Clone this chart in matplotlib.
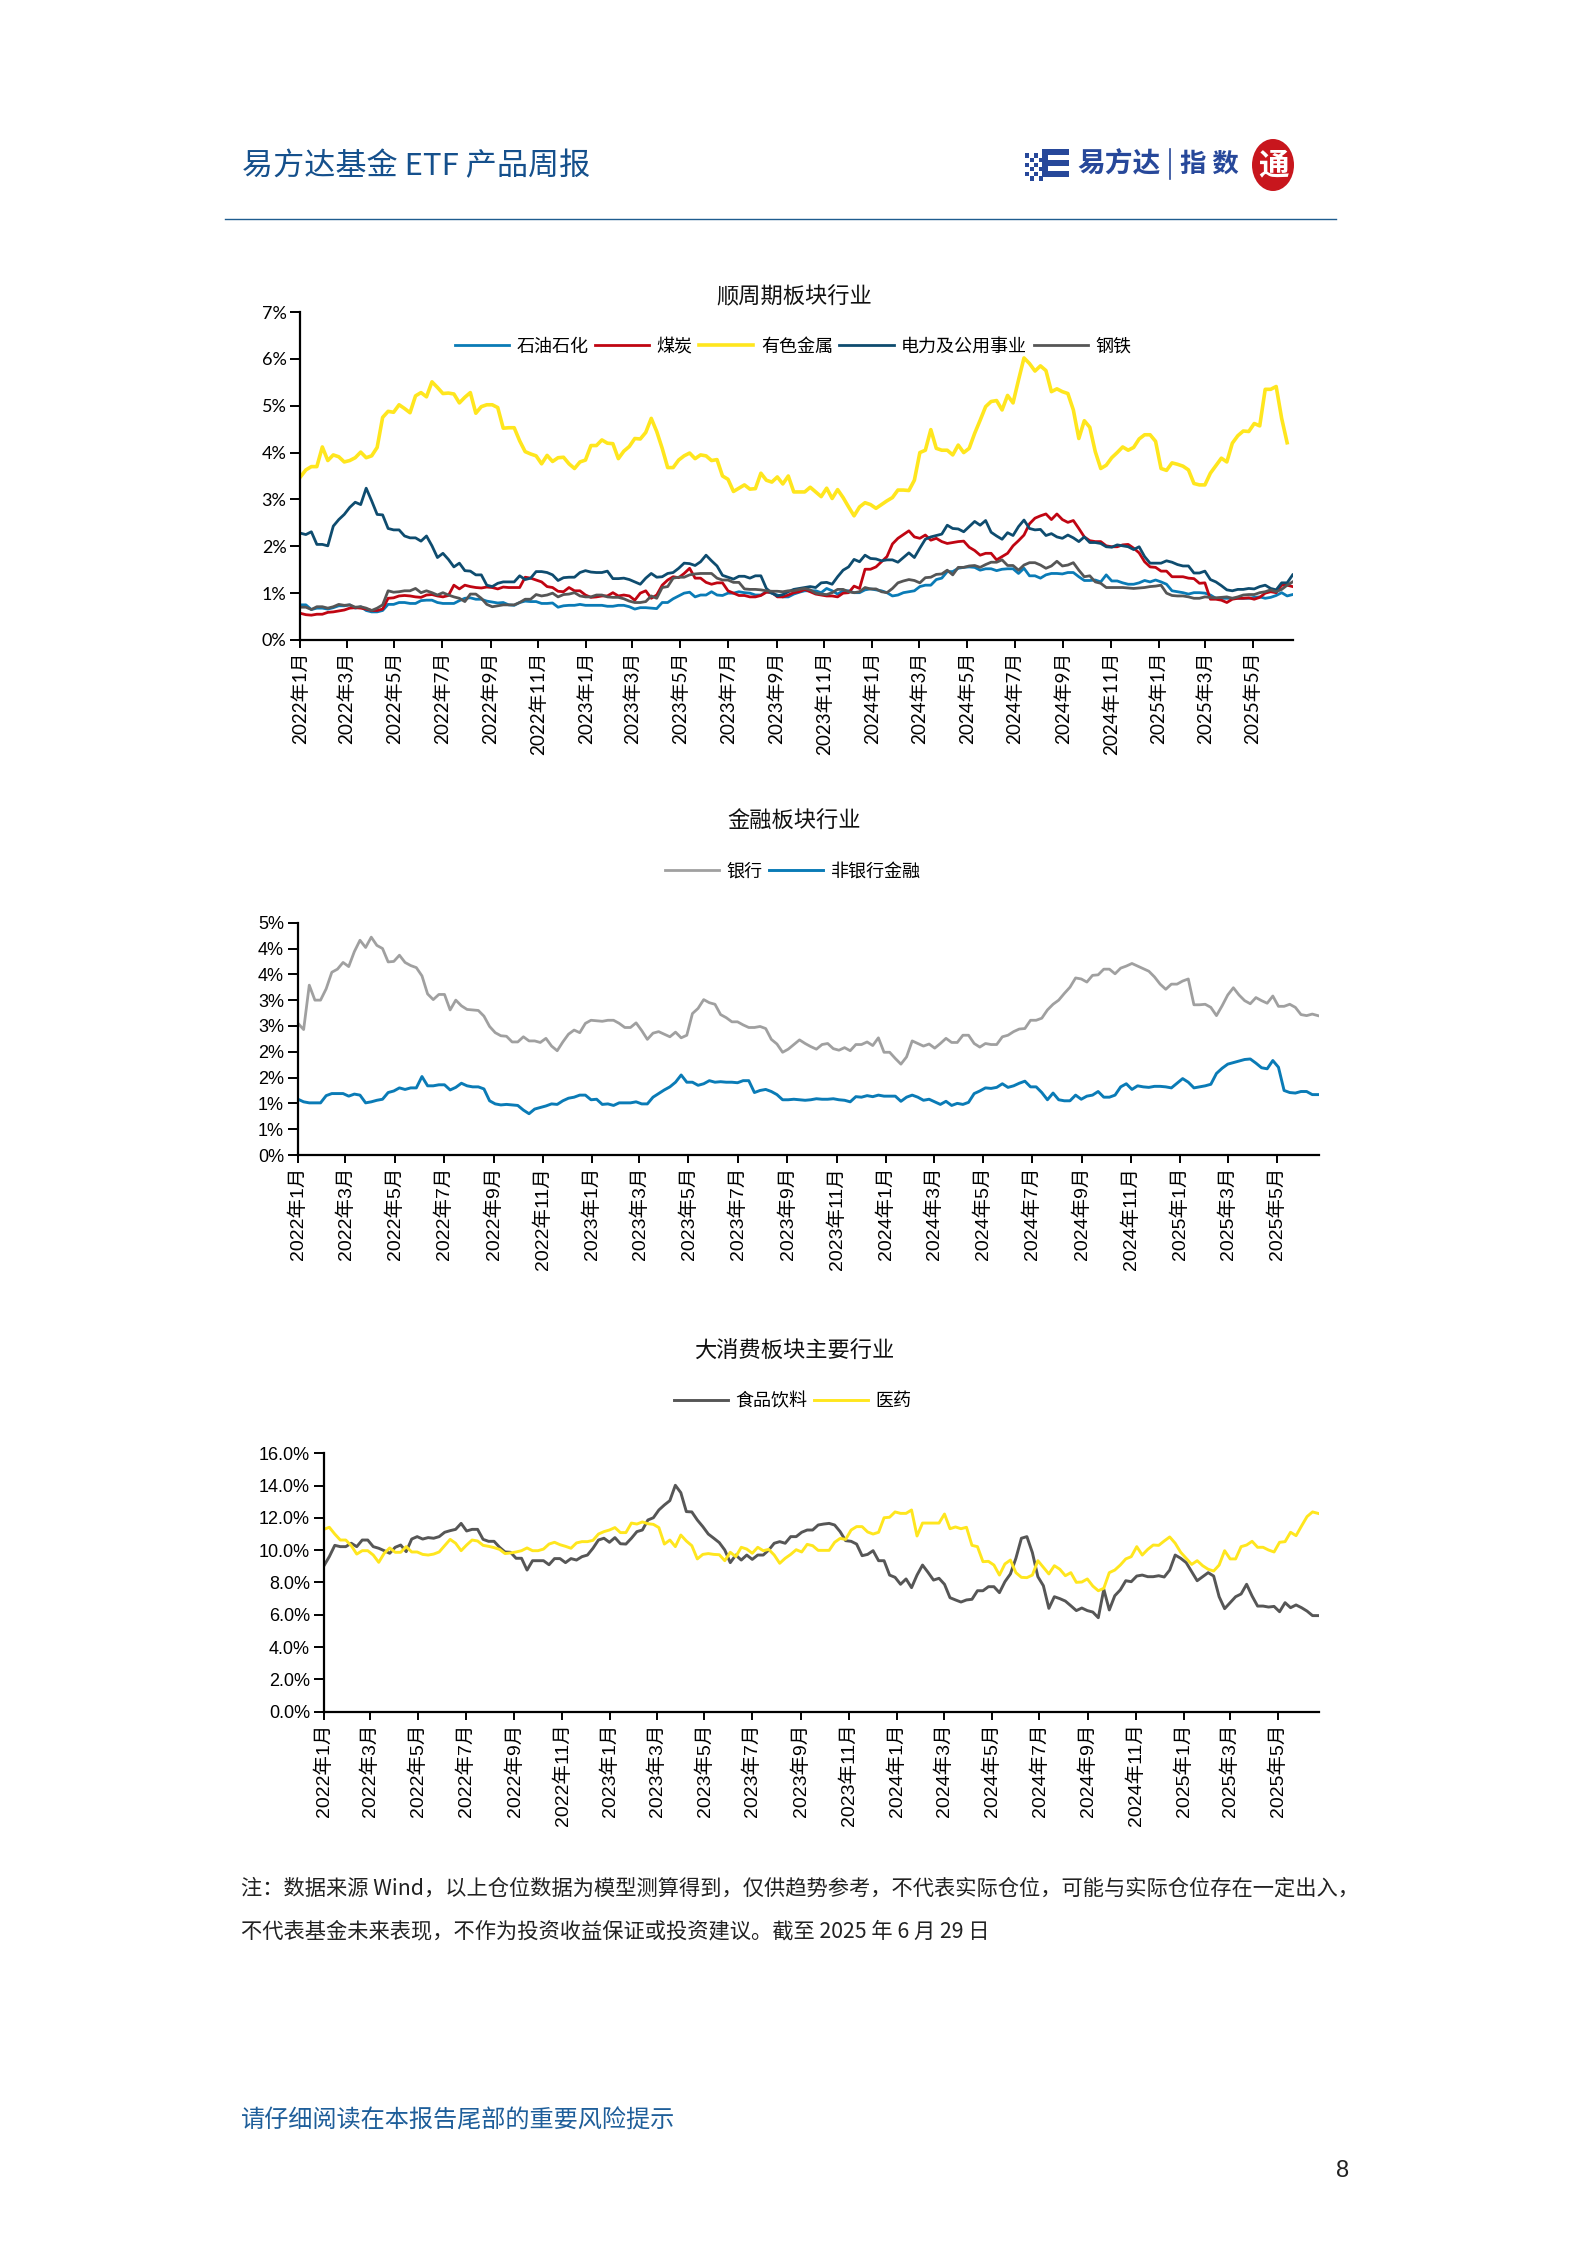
import matplotlib
matplotlib.use("Agg")
import matplotlib.pyplot as plt
from matplotlib.patches import Rectangle, Ellipse
import pandas as pd

W, H = 1587, 2245
CJK = 'Noto Sans CJK SC'
plt.rcParams['font.family'] = [CJK, 'DejaVu Sans']

# ---------- data (percent, weekly) ----------
dates = pd.date_range('2022-01-01', periods=182, freq='7D')
tick_dates = pd.date_range('2022-01-01', '2025-05-01', freq='2MS')
tick_labels = [f'{d.year}年{d.month}月' for d in tick_dates]

oil = [.75,.75,.65,.68,.68,.66,.69,.73,.73,.75,.68,.71,.63,.60,.60,.63,.76,.76,.80,.80,
       .78,.78,.84,.85,.85,.80,.78,.78,.78,.84,.89,.90,.87,.87,.83,.81,.79,.80,.75,.74,
       .80,.83,.82,.82,.78,.78,.79,.70,.73,.74,.74,.76,.74,.74,.74,.74,.72,.72,.74,.74,
       .71,.66,.69,.69,.68,.67,.80,.80,.88,.94,1.00,1.02,.92,.96,.96,1.03,.96,.95,1.00,1.00,
       1.03,1.01,1.00,.96,.96,1.03,1.00,.96,.92,.92,.98,1.02,1.05,1.05,1.05,
       1.01,1.10,1.05,.98,1.05,1.05,1.01,1.01,1.07,1.09,
       1.07,1.05,1.01,.94,.96,1.01,1.03,1.05,1.14,1.17,
       1.17,1.29,1.32,1.46,1.46,1.53,1.55,1.56,1.55,1.49,
       1.52,1.52,1.48,1.51,1.52,1.52,1.42,1.53,1.37,1.37,
       1.32,1.39,1.42,1.42,1.41,1.44,1.44,1.35,1.27,1.27,
       1.28,1.24,1.39,1.26,1.26,1.22,1.19,1.19,1.22,1.27,
       1.24,1.28,1.24,1.19,1.05,1.03,1.01,.98,1.01,1.01,
       1.00,.96,.89,.89,.89,.89,.89,.89,.89,.91,
       .92,.89,.91,.95,1.01,.94,.97]
coal = [0.57,0.54,0.53,0.55,0.55,0.59,0.60,0.62,0.64,0.68,
        0.69,0.68,0.66,0.63,0.63,0.66,0.89,0.90,0.94,0.95,
        0.94,0.92,0.91,0.96,0.97,0.94,0.92,0.95,1.17,1.09,
        1.17,1.14,1.12,1.11,1.13,1.12,1.09,1.13,1.12,1.12,
        1.12,1.34,1.32,1.28,1.24,1.14,1.12,1.04,1.03,1.12,
        1.05,1.05,0.96,0.91,0.92,0.94,0.94,1.01,0.94,0.96,
        0.94,0.85,1.00,1.05,0.89,0.96,1.17,1.28,1.35,1.33,
        1.42,1.53,1.32,1.32,1.23,1.19,1.22,1.22,1.05,1.00,
        0.95,0.95,0.92,0.92,0.95,1.02,1.02,0.92,0.92,0.96,
        1.01,1.03,1.08,1.03,0.98,
        0.96,0.94,0.94,0.92,1.00,1.01,1.15,1.10,1.51,1.51,
        1.56,1.67,1.78,2.05,2.17,2.25,2.33,2.20,2.17,2.24,
        2.13,2.17,2.10,2.06,2.08,2.10,2.11,1.98,1.91,1.81,
        1.85,1.85,1.71,1.78,1.85,2.01,2.12,2.24,2.48,2.60,
        2.65,2.69,2.57,2.69,2.57,2.51,2.55,2.38,2.20,2.12,
        2.10,2.10,2.01,1.99,1.99,2.03,2.04,1.96,1.86,1.67,
        1.56,1.55,1.47,1.47,1.35,1.35,1.35,1.32,1.31,1.21,
        1.22,0.87,0.87,0.85,0.80,0.87,0.89,0.89,0.90,0.87,
        0.91,1.00,1.03,1.01,1.17,1.17,1.14]
metals = [3.48,3.63,3.70,3.70,4.12,3.83,3.95,3.91,3.80,3.83,
          3.89,4.01,3.89,3.93,4.11,4.75,4.88,4.86,5.02,4.94,
          4.85,5.21,5.28,5.19,5.51,5.39,5.26,5.27,5.25,5.06,
          5.18,5.28,4.84,4.98,5.02,5.02,4.96,4.52,4.53,4.53,
          4.25,4.02,3.97,3.93,3.76,3.94,3.81,3.89,3.90,3.76,
          3.66,3.80,3.84,4.15,4.15,4.27,4.20,4.19,3.87,4.03,
          4.13,4.30,4.29,4.43,4.73,4.45,4.09,3.68,3.68,3.84,
          3.93,3.99,3.87,3.95,3.93,3.83,3.85,3.50,3.43,3.17,
          3.24,3.31,3.22,3.23,3.56,3.41,3.37,3.48,3.33,3.50,
          3.16,3.16,3.16,3.26,3.16,
          3.06,3.24,3.02,3.21,3.04,2.84,2.65,2.84,2.93,2.89,
          2.81,2.89,2.97,3.04,3.20,3.20,3.19,3.41,4.00,4.05,
          4.49,4.09,4.05,4.05,3.95,4.16,4.00,4.09,4.41,4.69,
          4.98,5.09,5.11,4.91,5.22,5.06,5.55,6.02,5.90,5.74,
          5.85,5.75,5.30,5.36,5.30,5.26,4.91,4.30,4.68,4.54,
          4.02,3.66,3.73,3.89,4.00,4.12,4.05,4.11,4.29,4.38,
          4.38,4.24,3.66,3.62,3.78,3.75,3.71,3.63,3.34,3.31,
          3.31,3.56,3.72,3.88,3.80,4.20,4.36,4.46,4.45,4.62,
          4.57,5.35,5.35,5.41,4.73,4.21]
power = [2.28,2.25,2.31,2.04,2.04,2.01,2.43,2.57,2.68,2.83,
         2.94,2.89,3.24,2.97,2.68,2.67,2.38,2.35,2.35,2.22,
         2.18,2.18,2.11,2.22,2.01,1.76,1.85,1.72,1.56,1.64,
         1.48,1.47,1.39,1.39,1.17,1.14,1.21,1.24,1.24,1.24,
         1.37,1.29,1.32,1.46,1.46,1.44,1.39,1.27,1.33,1.34,
         1.34,1.44,1.48,1.45,1.44,1.44,1.47,1.31,1.31,1.32,
         1.29,1.24,1.19,1.32,1.42,1.34,1.35,1.42,1.44,1.53,
         1.64,1.63,1.59,1.67,1.81,1.69,1.58,1.38,1.34,1.30,
         1.36,1.36,1.32,1.37,1.37,1.10,1.00,0.94,0.97,1.03,
         1.08,1.10,1.12,1.14,1.12,
         1.22,1.23,1.19,1.35,1.49,1.56,1.72,1.67,1.81,1.74,
         1.73,1.69,1.71,1.71,1.66,1.76,1.86,1.76,1.96,2.15,
         2.20,2.23,2.26,2.45,2.38,2.37,2.31,2.42,2.53,2.45,
         2.55,2.30,2.22,2.15,2.29,2.23,2.42,2.56,2.38,2.35,
         2.36,2.23,2.27,2.20,2.17,2.24,2.18,2.10,2.20,2.08,
         2.08,2.06,1.99,1.98,2.03,2.01,1.99,1.93,1.99,1.78,
         1.64,1.64,1.64,1.69,1.66,1.61,1.58,1.58,1.43,1.43,
         1.47,1.29,1.24,1.16,1.07,1.05,1.08,1.08,1.10,1.09,
         1.14,1.17,1.10,1.07,1.22,1.22,1.39]
steel = [.70,.70,.65,.71,.71,.68,.71,.76,.74,.75,.70,.71,.68,.63,.68,.75,
         1.05,1.02,1.03,1.05,1.05,1.10,1.01,1.05,1.01,.96,1.01,.96,.92,.89,
         .82,.98,.98,.89,.76,.71,.73,.75,.75,.75,
         .80,.87,.87,.97,.94,.96,1.00,.92,.97,.98,
         1.01,.94,.92,.92,.96,.96,.92,.91,.91,.88,
         .83,.80,.80,.82,.94,.89,1.12,1.14,1.32,1.34,
         1.34,1.39,1.41,1.42,1.42,1.42,1.32,1.28,1.28,1.23,
         1.23,1.09,1.08,1.08,1.07,1.05,1.04,1.04,1.03,1.05,
         1.05,1.08,1.10,1.07,1.00,
         .98,.97,1.01,1.08,1.08,1.03,1.01,1.03,1.12,1.09,
         1.09,1.03,1.01,1.10,1.22,1.26,1.29,1.27,1.22,1.33,
         1.34,1.40,1.41,1.49,1.39,1.55,1.55,1.58,1.59,1.55,
         1.61,1.66,1.66,1.71,1.59,1.59,1.49,1.60,1.65,1.65,
         1.60,1.53,1.58,1.68,1.58,1.60,1.65,1.49,1.35,1.37,
         1.24,1.21,1.12,1.12,1.12,1.12,1.11,1.10,1.11,1.12,
         1.14,1.15,1.17,1.00,.95,.94,.94,.92,.89,.89,
         .92,.91,.90,.91,.92,.89,.92,.96,.97,.97,
         1.01,1.03,1.07,1.03,1.08,1.17,1.24]

bank = [2.55,2.43,3.29,3.00,3.00,3.22,3.54,3.60,3.73,3.65,
        3.94,4.16,4.02,4.22,4.06,4.00,3.74,3.75,3.87,3.73,
        3.67,3.63,3.47,3.12,3.01,3.11,3.11,2.81,3.00,2.89,
        2.82,2.81,2.80,2.69,2.49,2.37,2.31,2.30,2.19,2.19,
        2.29,2.21,2.21,2.18,2.26,2.11,2.02,2.19,2.34,2.42,
        2.37,2.55,2.61,2.60,2.59,2.61,2.61,2.55,2.47,2.47,
        2.56,2.41,2.24,2.36,2.39,2.34,2.29,2.38,2.27,2.32,
        2.74,2.84,3.01,2.95,2.92,2.72,2.66,2.58,2.58,2.52,
        2.47,2.47,2.49,2.45,
        2.24,2.15,1.99,2.05,2.14,2.23,2.16,2.10,2.05,2.14,2.16,2.06,2.03,2.08,2.02,2.14,
        2.14,2.19,2.12,2.27,1.99,1.99,1.87,1.76,1.90,2.21,2.16,2.11,2.15,2.07,2.16,2.26,
        2.18,2.18,2.32,2.32,2.16,2.09,2.16,2.14,2.14,2.29,2.32,2.39,2.44,2.45,2.61,2.61,
        2.65,2.81,2.92,3.00,3.13,3.25,3.43,3.41,3.35,3.48,3.49,3.60,3.60,3.51,3.62,3.66,
        3.71,3.66,3.61,3.56,3.45,3.31,3.21,3.31,3.31,3.37,3.41,2.91,2.91,2.92,2.86,2.70,
        2.89,3.10,3.24,3.10,2.99,2.93,3.05,2.99,2.94,3.08,2.88,2.88,2.92,2.86,2.72,2.70,
        2.73,2.70]
nonbank = [1.08,1.03,1.01,1.01,1.01,1.15,1.19,1.19,1.19,1.14,
           1.18,1.16,1.01,1.03,1.06,1.08,1.21,1.24,1.30,1.27,
           1.30,1.30,1.52,1.34,1.34,1.36,1.36,1.26,1.31,1.39,
           1.34,1.32,1.32,1.28,1.05,.99,.97,.98,.97,.96,
           .87,.80,.89,.92,.95,.99,.98,1.05,1.10,1.12,
           1.16,1.16,1.07,1.08,.98,.99,.96,1.01,1.01,1.01,
           1.03,.99,.99,1.12,1.19,1.26,1.32,1.41,1.55,1.41,
           1.41,1.35,1.38,1.44,1.41,1.42,1.41,1.41,1.40,1.44,
           1.44,1.21,1.25,1.27,
           1.23,1.17,1.07,1.07,1.08,1.07,1.06,1.07,1.09,1.08,1.08,1.09,1.07,1.06,1.03,1.13,
           1.12,1.15,1.13,1.16,1.14,1.14,1.14,1.04,1.12,1.16,1.12,1.06,1.08,1.03,.98,1.04,
           .96,1.00,.98,1.02,1.19,1.24,1.30,1.29,1.31,1.38,1.31,1.34,1.39,1.43,1.32,1.32,
           1.21,1.07,1.20,1.07,1.05,1.05,1.16,1.08,1.14,1.16,1.23,1.12,1.12,1.16,1.32,1.38,
           1.27,1.34,1.32,1.31,1.33,1.33,1.32,1.30,1.39,1.48,1.41,1.30,1.32,1.34,1.37,1.58,
           1.68,1.76,1.79,1.82,1.85,1.86,1.78,1.69,1.67,1.83,1.70,1.25,1.21,1.20,1.23,1.23,
           1.17,1.17]

food = [9.02,9.60,10.30,10.22,10.22,10.43,10.22,10.63,10.63,10.22,
        10.12,9.97,9.81,10.18,10.32,9.91,10.69,10.84,10.69,10.78,
        10.74,10.84,11.11,11.21,11.29,11.66,11.19,11.29,11.29,10.67,
        10.55,10.55,10.18,9.89,9.87,9.50,9.50,8.77,9.35,9.35,
        9.35,9.10,9.48,9.48,9.23,9.48,9.39,9.60,9.70,10.12,
        10.63,10.74,10.49,10.78,10.40,10.38,10.74,11.15,11.25,11.87,
        12.01,12.49,12.80,13.07,14.02,13.56,12.39,12.37,11.87,11.46,
        11.00,10.74,10.47,10.01,9.23,9.70,9.39,9.70,9.43,9.70,
        9.70,10.01,10.43,10.53,10.43,10.84,10.84,11.11,11.25,11.25,
        11.56,11.62,11.66,
        11.56,11.15,10.59,10.55,10.38,9.66,9.74,9.97,9.35,9.35,8.46,8.32,7.89,8.22,7.68,8.46,
        9.08,8.63,8.15,8.26,7.89,7.06,6.92,6.79,6.92,6.96,7.49,7.49,7.74,7.74,7.37,8.05,
        8.53,9.50,10.74,10.84,9.85,8.36,7.80,6.40,7.12,7.00,6.85,6.56,6.26,6.42,6.26,6.17,
        5.82,7.58,6.30,7.18,7.54,8.11,8.05,8.40,8.46,8.36,8.36,8.42,8.34,8.77,9.70,9.50,
        9.23,8.67,8.11,8.36,8.61,8.40,7.12,6.38,6.75,7.12,7.29,7.89,7.16,6.54,6.54,6.48,
        6.52,6.19,6.75,6.44,6.61,6.44,6.23,5.95,5.95]
pharma = [11.29,11.42,11.00,10.63,10.63,10.28,9.76,9.97,9.97,9.70,
          9.25,9.81,10.14,9.87,9.87,10.22,9.89,9.89,9.74,9.70,
          9.76,9.89,10.28,10.67,10.43,9.97,10.32,10.63,10.57,10.30,
          10.24,10.16,10.05,9.79,9.83,9.89,9.97,10.14,9.97,9.97,
          10.07,10.38,10.49,10.34,10.24,10.12,10.45,10.53,10.53,10.61,
          11.00,11.15,11.25,11.40,11.09,11.09,11.68,11.62,11.75,11.64,
          11.60,11.40,10.38,10.63,10.22,10.94,10.57,10.28,9.46,9.74,
          9.79,9.74,9.72,9.35,9.87,9.60,10.18,10.07,9.81,10.18,
          9.97,10.05,9.70,9.19,9.50,9.74,10.03,9.89,10.36,10.28,
          9.99,9.99,9.99,
          10.49,10.73,10.67,11.25,11.46,11.46,11.13,11.00,11.11,12.01,12.04,12.37,12.28,12.28,12.49,10.88,
          11.68,11.68,11.68,11.68,12.24,11.33,11.44,11.33,11.42,10.30,10.22,9.29,9.31,9.08,8.46,9.15,
          9.39,8.61,8.32,8.30,8.46,9.35,8.94,8.53,9.04,8.82,8.42,8.61,8.01,8.03,8.22,7.78,
          7.49,7.64,8.61,8.77,9.08,9.46,9.60,10.22,9.70,10.05,10.32,10.30,10.57,10.82,10.43,9.87,
          9.50,9.12,9.35,9.04,8.82,8.71,9.08,9.97,9.46,9.46,10.22,10.32,10.55,10.18,10.18,10.01,
          9.89,10.49,10.53,11.11,10.90,11.50,12.08,12.37,12.28]

cycle_names = ['石油石化', '煤炭', '有色金属', '电力及公用事业', '钢铁']
fin_names = ['银行', '非银行金融']
cons_names = ['食品饮料', '医药']

y1_ticks = [0, 1, 2, 3, 4, 5, 6, 7]
y1_labels = ['0%', '1%', '2%', '3%', '4%', '5%', '6%', '7%']
y2_ticks = [0, .5, 1, 1.5, 2, 2.5, 3, 3.5, 4, 4.5]
y2_labels = ['0%', '1%', '1%', '2%', '2%', '3%', '3%', '4%', '4%', '5%']
y3_ticks = [0, 2, 4, 6, 8, 10, 12, 14, 16]
y3_labels = ['0.0%', '2.0%', '4.0%', '6.0%', '8.0%', '10.0%', '12.0%', '14.0%', '16.0%']

BLUE, RED, YELLOW, TEAL, DARK = '#0A7BB6', '#C00512', '#FFE61E', '#0E4C6F', '#565656'
LGRAY = '#A0A0A0'

fig = plt.figure(figsize=(W / 100, H / 100), dpi=100, facecolor='white')


def fx(x):
    return x / W


def fy(y):
    return 1 - y / H


def make_axes(left, right, top, bottom, yticks, ylabels, family, xsize):
    ax = fig.add_axes([fx(left), fy(bottom), (right - left) / W, (bottom - top) / H])
    ax.set_xlim(dates[0], dates[0] + pd.Timedelta(days=1268))
    ax.set_ylim(yticks[0], yticks[-1])
    for s in ('top', 'right'):
        ax.spines[s].set_visible(False)
    for s in ('left', 'bottom'):
        ax.spines[s].set_linewidth(1.6)
    ax.set_yticks(yticks)
    ax.set_yticklabels(ylabels, family=family, fontsize=13)
    ax.set_xticks(tick_dates)
    ax.set_xticklabels(tick_labels, rotation=90, ha='center', va='top', family=family, fontsize=xsize)
    ax.tick_params(axis='y', length=7, width=1.4, pad=3)
    ax.tick_params(axis='x', length=6, width=1.4, pad=2.5)
    ax.patch.set_alpha(0)
    return ax


def legend(ax, cx, cy):
    ax.legend(loc='center', bbox_to_anchor=(fx(cx), fy(cy)), bbox_transform=fig.transFigure,
              ncol=5, frameon=False, fontsize=13, handlelength=3.0, handletextpad=0.42,
              columnspacing=0.36, borderpad=0, borderaxespad=0)


def plot(ax, values, name, color, lw):
    ax.plot(dates[:len(values)], values, color=color, lw=lw, label=name, solid_joinstyle='round')


# chart 1
fam1 = ['Lato', CJK]
ax1 = make_axes(300.4, 1293.4, 312, 640, y1_ticks, y1_labels, fam1, 13.6)
for v, n, c, w in zip([oil, coal, metals, power, steel], cycle_names,
                      [BLUE, RED, YELLOW, TEAL, DARK], [2.0, 2.0, 2.6, 2.0, 2.0]):
    plot(ax1, v, n, c, w)
legend(ax1, 793, 346.7)
fig.text(fx(794), fy(296.7), '顺周期板块行业', fontsize=16, ha='center', va='center', color='#111111')

# chart 2
fam2 = ['Liberation Sans', CJK]
ax2 = make_axes(298, 1318.7, 922.7, 1155, y2_ticks, y2_labels, fam2, 14)
plot(ax2, bank, fin_names[0], LGRAY, 2.0)
plot(ax2, nonbank, fin_names[1], BLUE, 2.1)
legend(ax2, 793, 871.7)
fig.text(fx(794), fy(821.7), '金融板块行业', fontsize=16, ha='center', va='center', color='#111111')

# chart 3
ax3 = make_axes(323.8, 1318.8, 1453.3, 1711.7, y3_ticks, y3_labels, fam2, 14)
plot(ax3, food, cons_names[0], DARK, 2.1)
plot(ax3, pharma, cons_names[1], YELLOW, 2.1)
legend(ax3, 792.5, 1401)
fig.text(fx(794.5), fy(1351.7), '大消费板块主要行业', fontsize=16, ha='center', va='center', color='#111111')

# header
HB = '#15508C'
fig.text(fx(242), fy(167), '易方达基金 ETF 产品周报', fontsize=22.4, color=HB, ha='left', va='center')
fig.add_artist(plt.Line2D([fx(225), fx(1336)], [fy(219), fy(219)], color='#1F5C8F', lw=1.0))

# logo
LB = '#27489A'
for r in range(6):
    for c in range(5):
        if (r + c) % 2 == 0:
            fig.add_artist(Rectangle((fx(1025 + c * 4.6), fy(153 + (r + 1) * 4.6)), 4.2 / W, 4.2 / H,
                                     transform=fig.transFigure, color=LB, lw=0))
for yb in (149, 160, 171):
    fig.add_artist(Rectangle((fx(1042), fy(yb + 6)), 27 / W, 6 / H, transform=fig.transFigure, color=LB, lw=0))
fig.add_artist(Rectangle((fx(1042), fy(177)), 6 / W, 28 / H, transform=fig.transFigure, color=LB, lw=0))
fig.text(fx(1077), fy(164), '易方达', fontsize=20, fontweight='bold', color=LB, ha='left', va='center')
fig.add_artist(plt.Line2D([fx(1170), fx(1170)], [fy(149), fy(179)], color=LB, lw=1.2))
fig.text(fx(1180), fy(164), '指 数', fontsize=19, fontweight='bold', color=LB, ha='left', va='center')
fig.add_artist(Ellipse((fx(1273), fy(165)), 42 / W, 52 / H, transform=fig.transFigure, color='#C8161D', lw=0))
fig.text(fx(1273), fy(165), '通', fontsize=22, fontweight='bold', color='white', ha='center', va='center')

# notes
note1 = '注：数据来源 Wind，以上仓位数据为模型测算得到，仅供趋势参考，不代表实际仓位，可能与实际仓位存在一定出入，'
note2 = '不代表基金未来表现，不作为投资收益保证或投资建议。截至 2025 年 6 月 29 日'
fig.text(fx(241), fy(1889), note1, fontsize=15.3, color='#222222', ha='left', va='center')
fig.text(fx(241), fy(1931.7), note2, fontsize=15.3, color='#222222', ha='left', va='center')

# footer
fig.text(fx(241), fy(2121), '请仔细阅读在本报告尾部的重要风险提示', fontsize=17.4, color='#1E5E9A', ha='left', va='center')
fig.text(fx(1343), fy(2171), '8', fontsize=17, family=['Liberation Sans'], color='#222222', ha='center', va='center')

fig.savefig('out.png', dpi=100, facecolor='white')
